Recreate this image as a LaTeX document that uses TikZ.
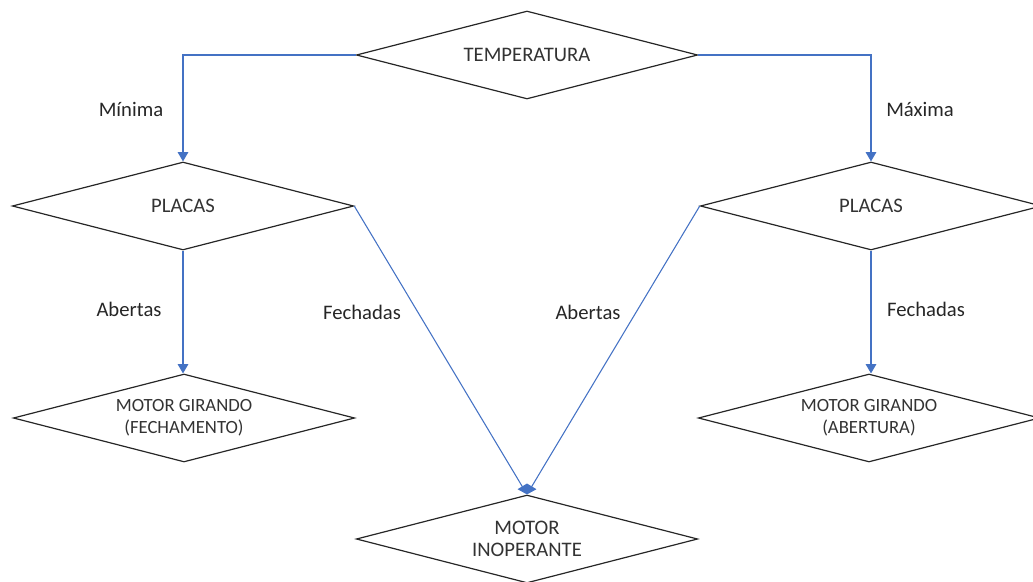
\documentclass[tikz,border=0pt]{standalone}
\usepackage{fontspec}
\setmainfont{Carlito}
\usetikzlibrary{shapes.geometric,positioning,arrows.meta}
\definecolor{lnblue}{HTML}{4472C4}

\begin{document}
\begin{tikzpicture}[x=0.75pt, y=-0.75pt,
        dec/.style={diamond, draw=black!85, line width=0.9pt, inner sep=0pt,
          aspect=4, minimum width=256pt, minimum height=66pt,
          align=center, font=\fontsize{15.5}{17}\selectfont, text=black!80},
        small/.style={font=\fontsize{14}{16.5}\selectfont},
        lbl/.style={font=\fontsize{15.5}{17}\selectfont, text=black!85},
        arr/.style={draw=lnblue, line width=0.8pt,
          -{Triangle[width=8pt,length=7pt]}}
        ]
        \useasboundingbox (0,0) rectangle (1033,582);

        \node[dec] (temp) at (527,55) {TEMPERATURA};
        \node[dec] (plE) at (183,206) {PLACAS};
        \node[dec] (plD) at (871,206) {PLACAS};
        \node[dec, small] (girE) at (184,418) {MOTOR GIRANDO\\(FECHAMENTO)};
        \node[dec, small] (girD) at (869,418) {MOTOR GIRANDO\\(ABERTURA)};
        \node[dec] (inop) at (527,539) {MOTOR\\INOPERANTE};

        \draw[arr] (temp.west) -| (plE.north);
        \draw[arr] (temp.east) -| (plD.north);
        \draw[arr] (plE.south) -- (plE.south |- girE.north);
        \draw[arr] (plD.south) -- (plD.south |- girD.north);
        \draw[arr] (plE.east) -- (inop.north);
        \draw[arr] (plD.west) -- (inop.north);

        \node[lbl] (lmin) at (131,109) {Mínima};
        \node[lbl] (lmax) at (920,109) {Máxima};
        \node[lbl] (labE) at (129,309) {Abertas};
        \node[lbl] (lfeE) at (362,312) {Fechadas};
        \node[lbl] (labD) at (588,312) {Abertas};
        \node[lbl] (lfeD) at (926,309) {Fechadas};
\end{tikzpicture}
\end{document}
